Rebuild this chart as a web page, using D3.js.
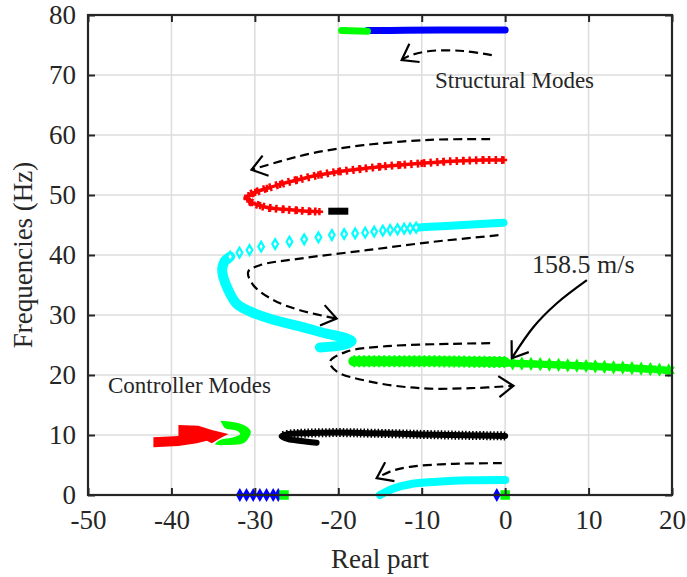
<!DOCTYPE html>
<html>
<head>
<meta charset="utf-8">
<script src="https://cdn.jsdelivr.net/npm/d3@7"></script>
<style>
  body { margin: 0; background: #fff; }
  text { font-family: "Liberation Serif", "Times New Roman", serif; fill: #262626; }
</style>
</head>
<body>
<svg width="687" height="577"></svg>
<script>
// axis ranges and ticks
const xTicks = [-50, -40, -30, -20, -10, 0, 10, 20];
const yTicks = [0, 10, 20, 30, 40, 50, 60, 70, 80];

// structural modes (real part, frequency)
const structBlue = [[-16.5, 77.4], [-12, 77.45], [-6, 77.5], [0, 77.5]];
const structGreen = [[-19.6, 77.4], [-16.5, 77.3]];

const redLocus = [
  [-0.2, 55.83], [-2.6, 55.83], [-5.0, 55.72], [-7.4, 55.56], [-10.0, 55.28], [-12.59, 55.0],
  [-14.98, 54.72], [-17.38, 54.33], [-19.98, 53.89], [-22.38, 53.33], [-24.97, 52.5],
  [-26.97, 51.78], [-28.56, 51.11], [-29.97, 50.44], [-30.77, 49.89], [-30.89, 49.33],
  [-30.36, 48.72], [-29.37, 48.22], [-28.17, 47.83], [-26.57, 47.61], [-24.97, 47.44],
  [-23.37, 47.28], [-22.26, 47.22]
];
const blackShort = [[-21.2, 47.3], [-18.8, 47.3]];

const cyanDense = [[-0.2, 45.38], [-3, 45.15], [-6, 44.9], [-9, 44.7], [-10.67, 44.56]];
const cyanDiamonds = [
  [-32.96, 39.72], [-31.84, 40.39], [-30.64, 40.83], [-29.25, 41.39], [-27.57, 41.83],
  [-25.85, 42.22], [-24.09, 42.61], [-22.38, 42.94], [-20.77, 43.33], [-19.3, 43.5],
  [-17.98, 43.6], [-16.78, 43.72], [-15.7, 43.9], [-14.66, 44.06], [-13.78, 44.17],
  [-12.9, 44.28], [-12.1, 44.39], [-11.39, 44.44], [-10.67, 44.56]
];
const cyanLower = [
  [-32.96, 39.72], [-33.6, 39.0], [-33.9, 37.8], [-33.8, 36.4], [-33.2, 34.2], [-32.2, 31.9],
  [-30.6, 30.6], [-27.8, 29.2], [-24.6, 28.1], [-21.4, 26.9], [-19.0, 26.1], [-18.4, 25.6],
  [-19.4, 25.0], [-22.2, 24.6]
];

const greenDense = [[-18.2, 22.3], [-12, 22.3], [-6, 22.25], [0, 22.15]];
const greenSparse = [
  [0.9, 21.95], [2.0, 21.9], [3.1, 21.85], [4.2, 21.8], [5.3, 21.74], [6.4, 21.68],
  [7.5, 21.62], [8.6, 21.56], [9.7, 21.5], [10.8, 21.43], [11.9, 21.36], [13.0, 21.29],
  [14.1, 21.22], [15.2, 21.14], [16.3, 21.06], [17.4, 20.98], [18.5, 20.88], [19.6, 20.78]
];

// controller modes
const redCtrl = [
  [-42.16, 9.62], [-39.16, 9.83], [-39.16, 11.67], [-36.76, 11.55], [-35.16, 10.83],
  [-33.17, 10.17], [-34.16, 9.45], [-35.16, 8.62], [-35.76, 9.05], [-36.95, 8.62],
  [-39.16, 8.17], [-42.16, 7.95]
];
const greenCtrl = [
  [-34.16, 12.38], [-32.16, 12.05], [-30.96, 11.38], [-30.48, 10.55], [-30.77, 9.45],
  [-31.37, 8.62], [-33.36, 8.33], [-34.76, 8.45], [-34.16, 9.17], [-32.57, 9.62],
  [-31.76, 10.17], [-32.16, 10.72], [-33.56, 11.12], [-33.96, 11.95]
];
const blackCtrl = [
  [0, 9.85], [-5, 9.95], [-10, 10.1], [-16, 10.3], [-20, 10.4], [-24, 10.3], [-26.2, 10.1],
  [-26.8, 9.8], [-26, 9.3], [-24.5, 9.0], [-22.6, 8.7]
];
const cyanBottom = [[-15, 0], [-14.6, 0.3], [-13.4, 1.1], [-11.4, 1.8], [-8.2, 2.2], [-4.2, 2.45], [0, 2.5]];
const blueBottomA = [[-31.8, 0], [-31.0, 0], [-30.2, 0], [-29.4, 0], [-28.6, 0], [-27.8, 0], [-27.2, 0]];
const blueBottomB = [[-1.0, 0]];
const greenSquares = [[-26.5, 0], [0, 0]];

// dashed direction arrows
const dashedArrows = [
  [[-1.6, 73.3], [-5, 74.0], [-9, 74.0], [-11.5, 73.2], [-12.4, 72.5]],
  [[-1.8, 59.3], [-9, 59.2], [-17, 58.3], [-23, 57.0], [-27, 55.6], [-30.4, 54.2]],
  [[-0.8, 43.3], [-8.6, 42.2], [-16.6, 40.8], [-24.6, 39.4], [-29.4, 38.3], [-30.8, 37.2],
   [-30.2, 35.0], [-27.8, 32.5], [-24.6, 30.8], [-20.2, 29.4]],
  [[-1.8, 25.3], [-6.2, 25.2], [-14.2, 24.8], [-19, 23.9], [-21, 22.2], [-20.2, 20.6],
   [-16.2, 18.9], [-10.2, 17.8], [-4.2, 17.8], [1, 18.2]],
  [[-0.4, 5.3], [-6.2, 5.2], [-11.4, 4.7], [-13.8, 3.9], [-15.4, 2.8]]
];
const speedArrow = [[9.8, 35.8], [6.2, 31.95], [3.4, 28], [0.8, 22.8]];

const W = 687, H = 577;
const m = { left: 88, right: 672, top: 15, bottom: 495 };

const x = d3.scaleLinear().domain([-50, 20]).range([m.left, m.right]);
const y = d3.scaleLinear().domain([0, 80]).range([m.bottom, m.top]);

const svg = d3.select('svg');

// grid
svg.append('g').selectAll('line').data(xTicks.slice(1, -1)).join('line')
  .attr('x1', d => x(d)).attr('x2', d => x(d)).attr('y1', m.top).attr('y2', m.bottom)
  .attr('stroke', '#dcdcdc').attr('stroke-width', 1.5);
svg.append('g').selectAll('line').data(yTicks.slice(1, -1)).join('line')
  .attr('y1', d => y(d)).attr('y2', d => y(d)).attr('x1', m.left).attr('x2', m.right)
  .attr('stroke', '#dcdcdc').attr('stroke-width', 1.5);

const line = d3.line().x(d => x(d[0])).y(d => y(d[1]));
const smooth = d3.line().x(d => x(d[0])).y(d => y(d[1])).curve(d3.curveCatmullRom);
const g = svg.append('g');

function thick(data, color, width, dash) {
  const p = g.append('path').attr('d', smooth(data)).attr('fill', 'none')
    .attr('stroke', color).attr('stroke-width', width)
    .attr('stroke-linecap', 'round').attr('stroke-linejoin', 'round');
  if (dash) p.attr('stroke-dasharray', dash).attr('stroke-linecap', 'butt');
  return p;
}

// structural
thick(structBlue, '#0000ff', 7);
thick(structGreen, '#00ff00', 7);

// red locus with plus markers
thick(redLocus, '#ff0000', 3.5);
thick(redLocus, '#ff0000', 8, '2.5,4');
g.selectAll('.rp').data(redLocus).join('path').attr('class', 'rp')
  .attr('transform', d => `translate(${x(d[0])},${y(d[1])})`)
  .attr('d', d3.symbol(d3.symbolCross, 30)()).attr('fill', '#ff0000');
thick(blackShort, '#000000', 7).attr('stroke-linecap', 'butt');

// cyan locus
thick(cyanDense, '#00ffff', 8);
thick(cyanLower, '#00ffff', 10);
g.selectAll('.cd').data(cyanDiamonds).join('path').attr('class', 'cd')
  .attr('transform', d => `translate(${x(d[0])},${y(d[1])})`)
  .attr('d', d3.symbol(d3.symbolDiamond, 28)())
  .attr('fill', '#ffffff').attr('stroke', '#00ffff').attr('stroke-width', 2.2);

// green locus
thick(greenDense, '#00ff00', 10);
thick(greenDense, '#00ff00', 12, '2,3');
const hexagram = {
  draw(ctx, size) {
    const r = Math.sqrt(size) * 0.75;
    for (let k = 0; k < 2; k++) {
      for (let i = 0; i < 3; i++) {
        const a = -Math.PI / 2 + k * Math.PI + i * 2 * Math.PI / 3;
        const px = r * Math.cos(a), py = r * Math.sin(a);
        if (i === 0) ctx.moveTo(px, py); else ctx.lineTo(px, py);
      }
      ctx.closePath();
    }
  }
};
g.selectAll('.gs').data(greenSparse).join('path').attr('class', 'gs')
  .attr('transform', d => `translate(${x(d[0])},${y(d[1])})`)
  .attr('d', d3.symbol(hexagram, 90)()).attr('fill', '#00ff00');
thick(greenSparse, '#00ff00', 4);

// controller modes
g.append('path').attr('d', line(redCtrl) + 'Z').attr('fill', '#ff0000');
g.append('path').attr('d', smooth(greenCtrl) + 'Z').attr('fill', '#00ff00');
thick(blackCtrl, '#000000', 6);
thick(blackCtrl.slice(0, 8), '#000000', 9, '1.5,2');
thick(cyanBottom, '#00ffff', 8);
thick(blueBottomA, '#0000ff', 3);
g.selectAll('.bb').data(blueBottomA.concat(blueBottomB)).join('path').attr('class', 'bb')
  .attr('transform', d => `translate(${x(d[0])},${y(d[1])})`)
  .attr('d', d3.symbol(d3.symbolDiamond, 55)()).attr('fill', '#0000ff');
g.selectAll('.gq').data(greenSquares).join('rect').attr('class', 'gq')
  .attr('x', d => x(d[0]) - 4).attr('y', d => y(d[1]) - 4).attr('width', 8).attr('height', 8)
  .attr('fill', '#00ff00').attr('stroke', '#00ff00').attr('stroke-width', 1.5);

// arrows
function arrowHead(data) {
  const a = data[data.length - 2], b = data[data.length - 1];
  const ax = x(a[0]), ay = y(a[1]), bx = x(b[0]), by = y(b[1]);
  const ang = Math.atan2(by - ay, bx - ax);
  const len = 18, spread = 0.62;
  const pts = [-spread, spread].map(s => [bx - len * Math.cos(ang + s), by - len * Math.sin(ang + s)]);
  g.append('path')
    .attr('d', `M${pts[0][0]},${pts[0][1]}L${bx},${by}L${pts[1][0]},${pts[1][1]}`)
    .attr('fill', 'none').attr('stroke', '#000').attr('stroke-width', 2.2);
}
dashedArrows.forEach(d => {
  g.append('path').attr('d', smooth(d)).attr('fill', 'none').attr('stroke', '#000')
    .attr('stroke-width', 2.2).attr('stroke-dasharray', '9,5');
  arrowHead(d);
});
g.append('path').attr('d', smooth(speedArrow)).attr('fill', 'none').attr('stroke', '#000').attr('stroke-width', 2.2);
arrowHead(speedArrow);

// axes box + ticks
const axCol = '#262626';
const fmt = d => String(d);
svg.append('g').attr('transform', `translate(0,${m.bottom})`)
  .call(d3.axisBottom(x).tickValues(xTicks).tickFormat(fmt).tickSizeInner(-7).tickSizeOuter(0).tickPadding(15));
svg.append('g').attr('transform', `translate(${m.left},0)`)
  .call(d3.axisLeft(y).tickValues(yTicks).tickFormat(fmt).tickSizeInner(-7).tickSizeOuter(0).tickPadding(12));
svg.append('g').attr('transform', `translate(0,${m.top})`)
  .call(d3.axisTop(x).tickValues(xTicks).tickSizeInner(-7).tickSizeOuter(0).tickFormat(''));
svg.append('g').attr('transform', `translate(${m.right},0)`)
  .call(d3.axisRight(y).tickValues(yTicks).tickSizeInner(-7).tickSizeOuter(0).tickFormat(''));
svg.selectAll('.domain').remove();
svg.selectAll('.tick line').attr('stroke', axCol).attr('stroke-width', 2);
svg.selectAll('.tick text').attr('font-size', 27).attr('fill', axCol)
  .attr('font-family', '"Liberation Serif", serif');
svg.append('rect').attr('x', m.left).attr('y', m.top)
  .attr('width', m.right - m.left).attr('height', m.bottom - m.top)
  .attr('fill', 'none').attr('stroke', axCol).attr('stroke-width', 2.2);

// labels
svg.append('text').attr('x', (m.left + m.right) / 2).attr('y', 568)
  .attr('text-anchor', 'middle').attr('font-size', 27).text('Real part');
svg.append('text').attr('transform', `translate(32,${(m.top + m.bottom) / 2}) rotate(-90)`)
  .attr('text-anchor', 'middle').attr('font-size', 27).text('Frequencies (Hz)');
svg.append('text').attr('x', 435).attr('y', 88).attr('font-size', 23).text('Structural Modes');
svg.append('text').attr('x', 108).attr('y', 393).attr('font-size', 23).text('Controller Modes');
svg.append('text').attr('x', 532).attr('y', 273).attr('font-size', 26).text('158.5 m/s');
</script>
</body>
</html>
